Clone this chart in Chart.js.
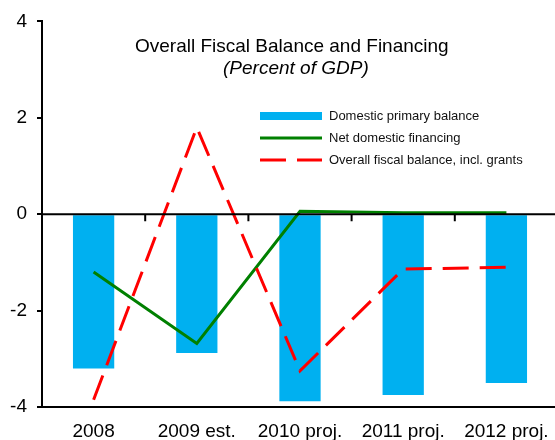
<!DOCTYPE html>
<html lang="en">
<head>
  <meta charset="UTF-8" />
  <title>Overall Fiscal Balance and Financing</title>
  <script src="https://cdn.jsdelivr.net/npm/chart.js"></script>
  <style>
    html, body { margin: 0; padding: 0; background: #fff; overflow: hidden; }
    #wrap { width: 555px; height: 440px; overflow: hidden; }
  </style>
</head>
<body>
  <!-- canvas a bit wider than the frame: the last category runs off the right edge -->
  <div id="wrap"><canvas id="fiscalChart" width="558" height="440"></canvas></div>

  <script>
    // Percent of GDP
    const years = ["2008", "2009 est.", "2010 proj.", "2011 proj.", "2012 proj."];
    const primaryBalance = [-3.2, -2.88, -3.88, -3.75, -3.5];
    const netFinancing = [-1.2, -2.68, 0.06, 0.03, 0.03];
    const overallBalance = [-3.85, 1.8, -3.25, -1.14, -1.1];

    const FONT = "'Liberation Sans', Arial, sans-serif";

    // zero line across the plot with little ticks between the categories
    const zeroLine = {
      id: "zeroLine",
      afterDatasetsDraw(chart) {
        const { ctx, chartArea, scales } = chart;
        const y0 = scales.y.getPixelForValue(0);
        ctx.save();
        ctx.strokeStyle = "#000";
        ctx.lineWidth = 2;
        ctx.beginPath();
        ctx.moveTo(chartArea.left, y0);
        ctx.lineTo(chartArea.right, y0);
        for (let i = 0; i < years.length - 1; i++) {
          const x = (scales.x.getPixelForTick(i) + scales.x.getPixelForTick(i + 1)) / 2;
          ctx.moveTo(x, y0);
          ctx.lineTo(x, y0 + 7);
        }
        ctx.stroke();
        ctx.restore();
      }
    };

    // title block and legend inside the plot
    const overlay = {
      id: "overlay",
      afterDraw(chart) {
        const { ctx } = chart;
        ctx.save();
        ctx.fillStyle = "#000";
        ctx.textBaseline = "middle";
        ctx.textAlign = "left";
        ctx.font = "19px " + FONT;
        ctx.fillText("Overall Fiscal Balance and Financing", 135, 47);
        ctx.font = "italic 19px " + FONT;
        ctx.fillText("(Percent of GDP)", 223, 69);

        const rows = [116, 138, 160];
        ctx.font = "13px " + FONT;
        chart.data.datasets.forEach((ds, i) => {
          const y = rows[i];
          if (ds.type === "line") {
            ctx.strokeStyle = ds.borderColor;
            ctx.lineWidth = 3;
            ctx.setLineDash(ds.borderDash || []);
            ctx.beginPath();
            ctx.moveTo(260, y);
            ctx.lineTo(322, y);
            ctx.stroke();
            ctx.setLineDash([]);
          } else {
            ctx.fillStyle = ds.backgroundColor;
            ctx.fillRect(260, y - 4, 62, 8);
          }
          ctx.fillStyle = "#111";
          ctx.fillText(ds.label, 329, y);
        });
        ctx.restore();
      }
    };

    new Chart(document.getElementById("fiscalChart"), {
      type: "bar",
      data: {
        labels: years,
        datasets: [
          {
            label: "Domestic primary balance",
            data: primaryBalance,
            backgroundColor: "#00B0F0",
            categoryPercentage: 1,
            barPercentage: 0.4,
            order: 2
          },
          {
            type: "line",
            label: "Net domestic financing",
            data: netFinancing,
            borderColor: "#008000",
            borderWidth: 3,
            pointRadius: 0,
            tension: 0,
            order: 1
          },
          {
            type: "line",
            label: "Overall fiscal balance, incl. grants",
            data: overallBalance,
            borderColor: "#FF0000",
            borderWidth: 3,
            borderDash: [26, 11],
            pointRadius: 0,
            tension: 0,
            order: 0
          }
        ]
      },
      options: {
        responsive: false,
        animation: false,
        layout: { padding: { top: 18, right: 0, left: 0, bottom: 0 } },
        plugins: {
          legend: { display: false },
          tooltip: { enabled: false }
        },
        scales: {
          x: {
            grid: { display: false },
            border: { display: true, color: "#000", width: 2 },
            ticks: { color: "#000", font: { family: FONT, size: 19 }, padding: 5, maxRotation: 0 },
            afterFit(scale) { scale.height = 33; }
          },
          y: {
            min: -4,
            max: 4,
            ticks: { stepSize: 2, color: "#000", font: { family: FONT, size: 19 }, padding: 10 },
            grid: { drawOnChartArea: false, drawTicks: true, tickLength: 5, color: "#000", lineWidth: 2 },
            border: { display: true, color: "#000", width: 2 },
            afterFit(scale) { scale.width = 42; }
          }
        }
      },
      plugins: [zeroLine, overlay]
    });
  </script>
</body>
</html>
